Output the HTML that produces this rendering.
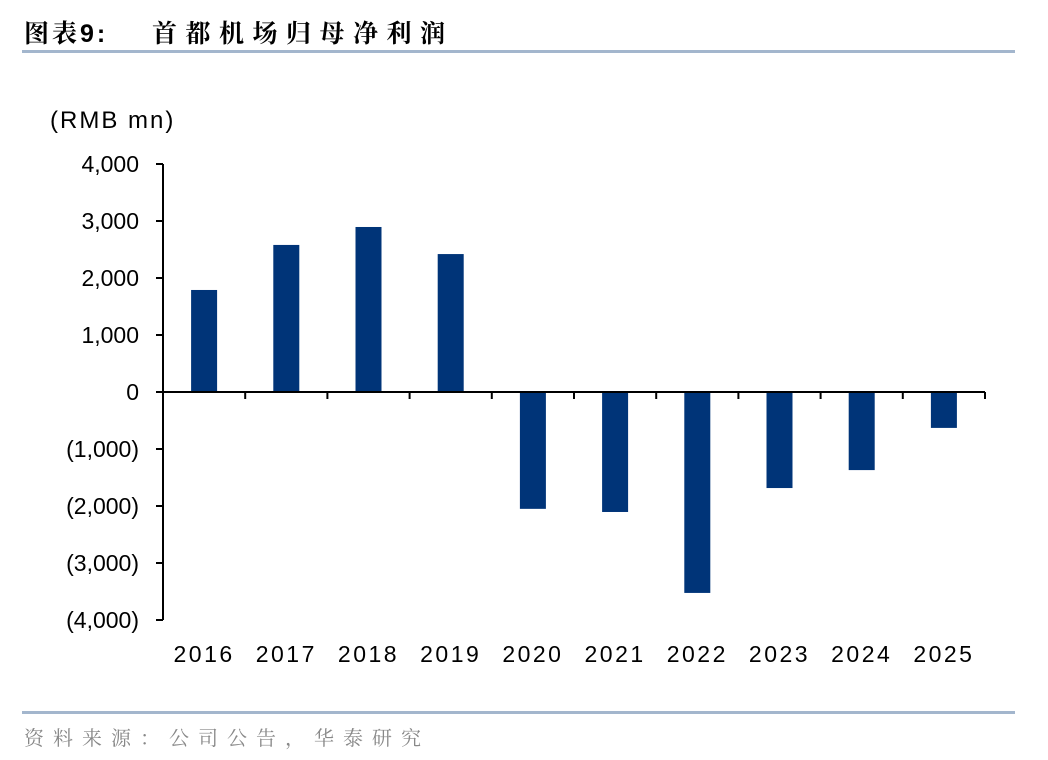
<!DOCTYPE html>
<html><head><meta charset="utf-8"><style>
body{margin:0;background:#fff;width:1048px;height:760px;overflow:hidden;position:relative;font-family:"Liberation Sans","Noto Sans CJK SC",sans-serif}
.t{position:absolute;top:14px;font-size:25px;font-weight:bold;color:#000;font-family:"Liberation Sans","Noto Serif CJK SC",serif;white-space:nowrap}
.rule{position:absolute;left:22px;width:993px;height:3px;background:#a3b6cd}
.src{position:absolute;left:24px;top:722px;font-size:20px;color:#888;letter-spacing:9px;font-family:"Liberation Sans","Noto Serif CJK SC",serif;white-space:nowrap}
</style></head><body>
<div class="t" style="left:24px;letter-spacing:3px">图表9:</div>
<div class="t" style="left:152px;letter-spacing:8.5px">首都机场归母净利润</div>
<div class="rule" style="top:50px"></div>
<svg id="c" width="1048" height="760" style="position:absolute;left:0;top:0"></svg>
<div class="rule" style="top:711px"></div>
<div class="src">资料来源：公司公告，华泰研究</div>
<script>
const categories=["2016","2017","2018","2019","2020","2021","2022","2023","2024","2025"];
const values=[1790,2580,2895,2420,-2050,-2105,-3525,-1685,-1370,-630];
const yTicks=[4000,3000,2000,1000,0,-1000,-2000,-3000,-4000];
const yLabels=["4,000","3,000","2,000","1,000","0","(1,000)","(2,000)","(3,000)","(4,000)"];
const NS="http://www.w3.org/2000/svg";
const svg=document.getElementById('c');
const x0=163,x1=985,yTop=164,yBot=620;
const y=v=>yTop+(4000-v)/8000*(yBot-yTop);
const step=(x1-x0)/categories.length;
const xc=i=>x0+step*(i+0.5);
function mk(t,a){const e=document.createElementNS(NS,t);for(const k in a)e.setAttribute(k,a[k]);svg.appendChild(e);return e;}
let u=mk('text',{x:50,y:128,'font-size':24,'letter-spacing':2,fill:'#000'});u.textContent="(RMB mn)";


let ya=mk('line',{x1:x0,y1:yTop,x2:x0,y2:yBot,stroke:'#000','stroke-width':2});


yTicks.forEach((v,i)=>{
 mk('line',{x1:x0-7,y1:y(v),x2:x0,y2:y(v),stroke:'#000','stroke-width':2});
 const t=mk('text',{x:x0-24,y:y(v)+8,'font-size':23,'text-anchor':'end',fill:'#000'});t.textContent=yLabels[i];
 
 
});
categories.forEach((c,i)=>{
 const v=values[i];
 const r=mk('rect',{x:xc(i)-13,y:Math.min(y(v),y(0)),width:26,height:Math.abs(y(v)-y(0)),fill:'#003478'});
 
 
 const t=mk('text',{x:xc(i),y:662,'font-size':23,'letter-spacing':2.5,'text-anchor':'middle',fill:'#000'});t.textContent=c;
 
 
});
const xa=mk('line',{x1:x0,y1:y(0),x2:x1,y2:y(0),stroke:'#000','stroke-width':2});


for(let i=0;i<=categories.length;i++)mk('line',{x1:x0+step*i,y1:y(0),x2:x0+step*i,y2:y(0)+7,stroke:'#000','stroke-width':2});
</script>
</body></html>
